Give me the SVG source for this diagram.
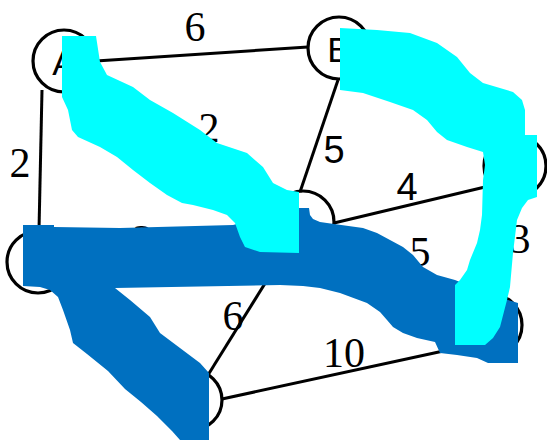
<svg xmlns="http://www.w3.org/2000/svg" width="547" height="440" viewBox="0 0 547 440">
<style>
.edge{stroke:#000;stroke-width:3;fill:none}
.node{stroke:#000;stroke-width:3.2;fill:none}
.lbl{font-family:"Liberation Serif","Times New Roman",serif;font-size:42px;fill:#000;text-anchor:middle}
.lbls{font-family:"Liberation Sans",Arial,sans-serif;font-size:38px;fill:#000;text-anchor:middle}
.nl{font-family:"Liberation Sans",Arial,sans-serif;font-size:35px;fill:#000;text-anchor:middle}
.blue{fill:#0070C0}
.cyan{fill:#00FFFF}
</style>
<rect width="547" height="440" fill="#fff"/>
<g id="connectors">
<line class="edge" x1="96" y1="61" x2="308" y2="47"/>
<line class="edge" x1="42" y1="90" x2="39" y2="230"/>
<line class="edge" x1="90" y1="78" x2="277" y2="205"/>
<line class="edge" x1="338" y1="80" x2="300" y2="192"/>
<line class="edge" x1="365" y1="65" x2="488" y2="148"/>
<line class="edge" x1="334" y1="223" x2="485" y2="187"/>
<line class="edge" x1="69" y1="260" x2="272" y2="224"/>
<line class="edge" x1="330" y1="237" x2="464" y2="310"/>
<line class="edge" x1="510" y1="197" x2="496" y2="294"/>
<line class="edge" x1="58" y1="286" x2="168" y2="376"/>
<line class="edge" x1="208" y1="375" x2="287" y2="248"/>
<line class="edge" x1="222" y1="399" x2="448" y2="350"/>
<text class="lbl" x="195" y="41">6</text>
<text class="lbl" x="20" y="177">2</text>
<text class="lbl" x="209" y="142">2</text>
<text class="lbls" x="334" y="163">5</text>
<text class="lbls" x="407" y="200">4</text>
<text class="lbl" x="143" y="254">2</text>
<text class="lbl" x="420" y="266">5</text>
<text class="lbl" x="520" y="253">3</text>
<text class="lbl" x="233" y="330">6</text>
<text class="lbl" x="344" y="367">10</text>
</g>
<g id="A"><circle class="node" cx="64" cy="61" r="31"/><text class="nl" x="64" y="75">A</text></g>
<g id="B"><circle class="node" cx="339" cy="48" r="31"/><text class="nl" x="339" y="62">B</text></g>
<g id="C"><circle class="node" cx="515" cy="166" r="31"/></g>
<g id="D"><circle class="node" cx="303" cy="222" r="31"/></g>
<g id="E"><circle class="node" cx="38" cy="262" r="31"/></g>
<g id="F"><circle class="node" cx="192" cy="400" r="30"/></g>
<g id="G"><circle class="node" cx="491" cy="325" r="31"/></g>
<g id="highlights">
<path class="blue" d="M23,225 L54,225 L54,227 L120,228 L233,225 L299,208 L309,208 L310,215 L313,219 L320,222 L334,224 L363,228 L377,233 L403,247 L413,255 L423,267 L437,275 L455,280 L480,290 L508,300 L518,303 L518,363 L488,363 L477,358 L457,355 L440,353 L435,342 L417,338 L403,333 L393,327 L387,320 L380,312 L367,303 L340,293 L320,288 L303,286 L280,285 L115,288 L130,300 L150,317 L160,333 L180,348 L200,363 L209,373 L209,440 L180,440 L172,431 L157,416 L141,402 L125,389 L108,371 L87,354 L73,343 L70,330 L63,310 L58,297 L50,290 L40,287 L23,286 Z"/>
<path class="cyan" d="M62,36 L96,36 L100,62 L107,75 L133,87 L150,100 L173,113 L200,130 L217,143 L247,153 L263,167 L273,183 L287,190 L299,192 L299,253 L260,252 L245,247 L240,237 L235,223 L227,215 L213,210 L193,205 L182,203 L167,195 L150,183 L133,170 L117,157 L100,147 L78,137 L72,130 L68,110 L62,97 Z"/>
<path class="cyan" d="M340,28 L377,30 L410,33 L437,43 L457,57 L470,73 L483,83 L513,92 L522,100 L525,110 L525,135 L537,135 L537,197 L528,200 L522,208 L517,220 L513,253 L510,287 L507,300 L500,327 L493,338 L485,345 L455,345 L455,285 L460,280 L467,270 L470,260 L477,243 L480,230 L482,215 L483,180 L485,165 L483,152 L467,147 L447,140 L437,132 L427,120 L413,110 L390,102 L363,93 L340,90 Z"/>
</g>
</svg>
